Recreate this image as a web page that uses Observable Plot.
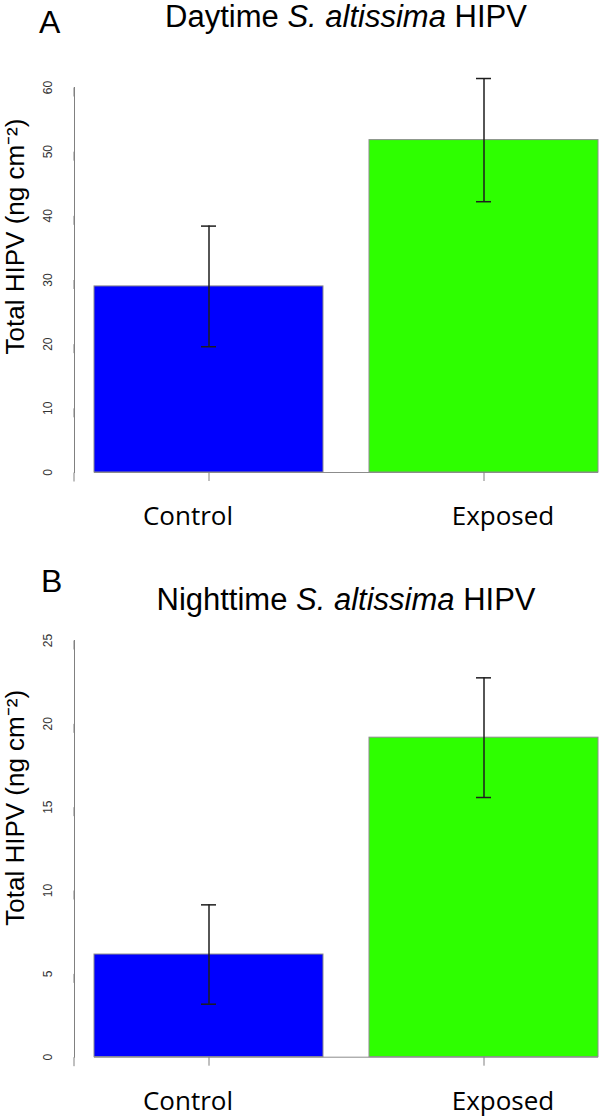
<!DOCTYPE html>
<html>
<head>
<meta charset="utf-8">
<script src="https://cdn.jsdelivr.net/npm/d3@7"></script>
<script src="https://cdn.jsdelivr.net/npm/@observablehq/plot@0.6"></script>
<style>
  html, body { margin: 0; padding: 0; background: #fff; }
  #wrap { width: 600px; height: 1118px; position: relative; overflow: hidden; }
  .hdr { position: relative; width: 600px; }
  .letter { position: absolute; font-family: "Liberation Sans", Arial, sans-serif; font-size: 32px; line-height: 32px; color: #000; white-space: nowrap; }
  .title { position: absolute; left: 94px; width: 504px; text-align: center; font-family: "Liberation Sans", Arial, sans-serif; font-size: 31px; line-height: 31px; color: #000; white-space: nowrap; }
</style>
</head>
<body>
<div id="wrap">
  <div class="hdr" style="height:45px">
    <div class="letter" style="left:39px; top:6px">A</div>
    <div class="title" style="top:1px">Daytime <i>S. altissima</i> HIPV</div>
  </div>
  <div id="panelA"></div>
  <div class="hdr" style="height:60px">
    <div class="letter" style="left:41px; top:5px">B</div>
    <div class="title" style="top:24px">Nighttime <i>S. altissima</i> HIPV</div>
  </div>
  <div id="panelB"></div>
</div>
<script>
const categories = ["Control", "Exposed"];
const barColors = ["#0000ff", "#2eff00"];

const dayMeans = [29.0, 51.8];
const daySE = [9.4, 9.6];
const dayTicks = [0, 10, 20, 30, 40, 50, 60];

const nightMeans = [6.16, 19.17];
const nightSE = [2.98, 3.59];
const nightTicks = [0, 5, 10, 15, 20, 25];

const yLabel = "Total HIPV (ng cm\u207B\u00B2)";

function panel(means, se, ticks, opts) {
  const data = categories.map((c, i) => ({
    cat: c, mean: means[i], lo: means[i] - se[i], hi: means[i] + se[i], color: barColors[i]
  }));
  const labelFont = { fontSize: 26, fontFamily: "'Open Sans', sans-serif", fill: "#000", frameAnchor: "bottom", lineAnchor: "top", dy: 34 };
  return Plot.plot({
    width: 600,
    height: opts.height,
    marginLeft: 74,
    marginRight: 2,
    marginTop: opts.marginTop,
    marginBottom: opts.marginBottom,
    style: { display: "block", background: "white", fontFamily: "'Liberation Sans', Arial, sans-serif", overflow: "visible" },
    x: { domain: categories, paddingInner: 0.167, paddingOuter: 0.036, align: 1, axis: null, label: null },
    y: { domain: [0, ticks[ticks.length - 1]], axis: null, label: null },
    marks: [
      Plot.barY(data, { x: "cat", y: "mean", fill: "color", stroke: "#8c8c8c", strokeWidth: 1 }),
      Plot.ruleY([0], { insetLeft: 20, stroke: "#8c8c8c", strokeWidth: 1 }),
      Plot.ruleX(data, { x: "cat", y1: "lo", y2: "hi", stroke: "#1e1e1e", strokeWidth: 1.5 }),
      Plot.tickY(data, { x: "cat", y: "lo", insetLeft: 107, insetRight: 107, stroke: "#1e1e1e", strokeWidth: 1.5 }),
      Plot.tickY(data, { x: "cat", y: "hi", insetLeft: 107, insetRight: 107, stroke: "#1e1e1e", strokeWidth: 1.5 }),
      Plot.frame({ anchor: "left", stroke: "#808080" }),
      Plot.axisY({ ticks: ticks, tickSize: 9, tickPadding: 14, rotate: -90, textAnchor: "middle", lineAnchor: "bottom",
                   fontSize: 12, stroke: "#808080", fill: "#333", label: null, tickFormat: d => String(d) }),
      Plot.axisX({ tickSize: 9, stroke: "#808080", tickFormat: () => "", label: null }),
      Plot.text(data.filter(d => d.cat === categories[0]), { x: "cat", text: "cat", dx: -21, ...labelFont }),
      Plot.text(data.filter(d => d.cat === categories[1]), { x: "cat", text: "cat", dx: 19, ...labelFont }),
      Plot.text([yLabel], { frameAnchor: "left", textAnchor: "middle", dx: -59, dy: opts.labelDy, rotate: -90, fontSize: 26, fill: "#000" })
    ]
  });
}

document.getElementById("panelA").appendChild(
  panel(dayMeans, daySE, dayTicks, { height: 515, marginTop: 42, marginBottom: 88, labelDy: -43.5 })
);
document.getElementById("panelB").appendChild(
  panel(nightMeans, nightSE, nightTicks, { height: 498, marginTop: 20, marginBottom: 61.3, labelDy: -41 })
);
</script>
</body>
</html>
